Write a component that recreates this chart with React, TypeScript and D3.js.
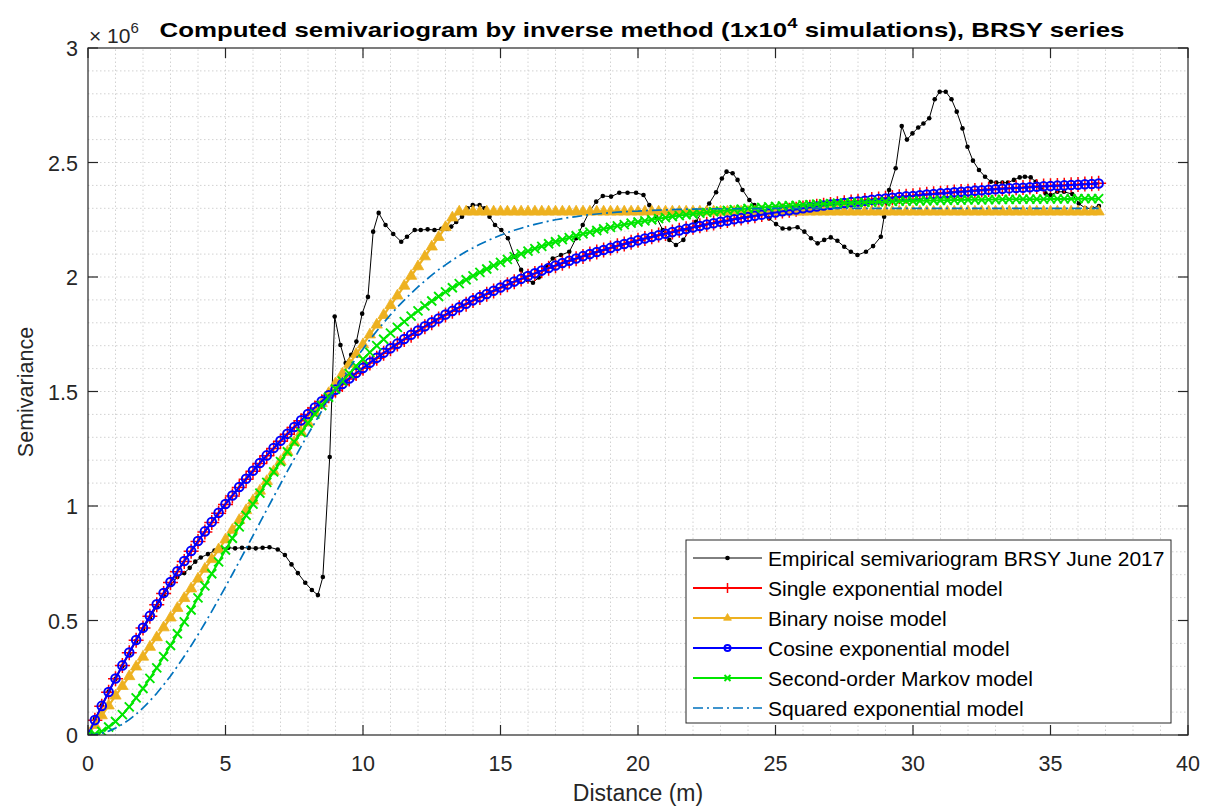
import React from 'react';
import * as d3 from 'd3';

// lag distances (m) shared by the model curves
const lags = [
  0, 0.25, 0.5, 0.75, 1, 1.25, 1.5, 1.75, 2, 2.25,
  2.5, 2.75, 3, 3.25, 3.5, 3.75, 4, 4.25, 4.5, 4.75,
  5, 5.25, 5.5, 5.75, 6, 6.25, 6.5, 6.75, 7, 7.25,
  7.5, 7.75, 8, 8.25, 8.5, 8.75, 9, 9.25, 9.5, 9.75,
  10, 10.25, 10.5, 10.75, 11, 11.25, 11.5, 11.75, 12, 12.25,
  12.5, 12.75, 13, 13.25, 13.5, 13.75, 14, 14.25, 14.5, 14.75,
  15, 15.25, 15.5, 15.75, 16, 16.25, 16.5, 16.75, 17, 17.25,
  17.5, 17.75, 18, 18.25, 18.5, 18.75, 19, 19.25, 19.5, 19.75,
  20, 20.25, 20.5, 20.75, 21, 21.25, 21.5, 21.75, 22, 22.25,
  22.5, 22.75, 23, 23.25, 23.5, 23.75, 24, 24.25, 24.5, 24.75,
  25, 25.25, 25.5, 25.75, 26, 26.25, 26.5, 26.75, 27, 27.25,
  27.5, 27.75, 28, 28.25, 28.5, 28.75, 29, 29.25, 29.5, 29.75,
  30, 30.25, 30.5, 30.75, 31, 31.25, 31.5, 31.75, 32, 32.25,
  32.5, 32.75, 33, 33.25, 33.5, 33.75, 34, 34.25, 34.5, 34.75,
  35, 35.25, 35.5, 35.75, 36, 36.25, 36.5, 36.75,
];

// semivariance values in units of 1e6
const singleExp = [
  0, 0.064, 0.126, 0.187, 0.246, 0.303, 0.359, 0.414, 0.467, 0.519,
  0.569, 0.618, 0.666, 0.713, 0.758, 0.802, 0.845, 0.887, 0.928, 0.968,
  1.007, 1.044, 1.081, 1.117, 1.152, 1.186, 1.219, 1.251, 1.283, 1.313,
  1.343, 1.372, 1.400, 1.428, 1.455, 1.481, 1.506, 1.531, 1.555, 1.579,
  1.601, 1.624, 1.645, 1.667, 1.687, 1.707, 1.727, 1.746, 1.764, 1.783,
  1.800, 1.817, 1.834, 1.850, 1.866, 1.881, 1.897, 1.911, 1.925, 1.939,
  1.953, 1.966, 1.979, 1.991, 2.003, 2.015, 2.027, 2.038, 2.049, 2.060,
  2.070, 2.080, 2.090, 2.100, 2.109, 2.118, 2.127, 2.136, 2.144, 2.152,
  2.160, 2.168, 2.176, 2.183, 2.190, 2.197, 2.204, 2.211, 2.217, 2.224,
  2.230, 2.236, 2.242, 2.247, 2.253, 2.258, 2.263, 2.268, 2.273, 2.278,
  2.283, 2.288, 2.292, 2.296, 2.301, 2.305, 2.309, 2.313, 2.317, 2.320,
  2.324, 2.328, 2.331, 2.334, 2.338, 2.341, 2.344, 2.347, 2.350, 2.353,
  2.355, 2.358, 2.361, 2.363, 2.366, 2.368, 2.371, 2.373, 2.375, 2.378,
  2.380, 2.382, 2.384, 2.386, 2.388, 2.390, 2.391, 2.393, 2.395, 2.397,
  2.398, 2.400, 2.401, 2.403, 2.404, 2.406, 2.407, 2.409,
];

const binaryNoise = [
  0, 0.043, 0.085, 0.128, 0.171, 0.213, 0.256, 0.298, 0.341, 0.384,
  0.426, 0.469, 0.512, 0.554, 0.597, 0.639, 0.682, 0.725, 0.767, 0.810,
  0.853, 0.895, 0.938, 0.981, 1.023, 1.066, 1.108, 1.151, 1.194, 1.236,
  1.279, 1.322, 1.364, 1.407, 1.449, 1.492, 1.535, 1.577, 1.620, 1.663,
  1.705, 1.748, 1.791, 1.833, 1.876, 1.918, 1.961, 2.004, 2.046, 2.089,
  2.132, 2.174, 2.217, 2.259, 2.285, 2.285, 2.285, 2.285, 2.285, 2.285,
  2.285, 2.285, 2.285, 2.285, 2.285, 2.285, 2.285, 2.285, 2.285, 2.285,
  2.285, 2.285, 2.285, 2.285, 2.285, 2.285, 2.285, 2.285, 2.285, 2.285,
  2.285, 2.285, 2.285, 2.285, 2.285, 2.285, 2.285, 2.285, 2.285, 2.285,
  2.285, 2.285, 2.285, 2.285, 2.285, 2.285, 2.285, 2.285, 2.285, 2.285,
  2.285, 2.285, 2.285, 2.285, 2.285, 2.285, 2.285, 2.285, 2.285, 2.285,
  2.285, 2.285, 2.285, 2.285, 2.285, 2.285, 2.285, 2.285, 2.285, 2.285,
  2.285, 2.285, 2.285, 2.285, 2.285, 2.285, 2.285, 2.285, 2.285, 2.285,
  2.285, 2.285, 2.285, 2.285, 2.285, 2.285, 2.285, 2.285, 2.285, 2.285,
  2.285, 2.285, 2.285, 2.285, 2.285, 2.285, 2.285, 2.285,
];

const cosineExp = [
  0, 0.065, 0.127, 0.188, 0.247, 0.304, 0.360, 0.415, 0.468, 0.520,
  0.571, 0.620, 0.668, 0.715, 0.760, 0.804, 0.847, 0.889, 0.930, 0.970,
  1.009, 1.046, 1.083, 1.119, 1.154, 1.188, 1.221, 1.253, 1.285, 1.315,
  1.345, 1.374, 1.402, 1.430, 1.457, 1.483, 1.508, 1.533, 1.557, 1.581,
  1.603, 1.626, 1.647, 1.669, 1.689, 1.709, 1.729, 1.748, 1.766, 1.785,
  1.802, 1.819, 1.836, 1.852, 1.868, 1.883, 1.898, 1.912, 1.926, 1.940,
  1.954, 1.967, 1.980, 1.992, 2.004, 2.016, 2.028, 2.039, 2.050, 2.061,
  2.071, 2.081, 2.091, 2.100, 2.109, 2.118, 2.127, 2.136, 2.144, 2.152,
  2.160, 2.168, 2.175, 2.182, 2.189, 2.196, 2.203, 2.210, 2.216, 2.223,
  2.229, 2.235, 2.241, 2.246, 2.252, 2.257, 2.262, 2.267, 2.272, 2.277,
  2.282, 2.287, 2.291, 2.295, 2.300, 2.304, 2.308, 2.312, 2.316, 2.319,
  2.323, 2.327, 2.330, 2.333, 2.337, 2.340, 2.343, 2.346, 2.349, 2.352,
  2.354, 2.357, 2.360, 2.362, 2.365, 2.367, 2.370, 2.372, 2.374, 2.377,
  2.379, 2.381, 2.383, 2.385, 2.387, 2.389, 2.390, 2.392, 2.394, 2.396,
  2.397, 2.399, 2.400, 2.402, 2.403, 2.405, 2.406, 2.408,
];

const markov2 = [
  0, 0.004, 0.016, 0.035, 0.059, 0.089, 0.123, 0.162, 0.203, 0.247,
  0.293, 0.342, 0.391, 0.442, 0.494, 0.546, 0.599, 0.651, 0.704, 0.756,
  0.808, 0.859, 0.909, 0.959, 1.008, 1.056, 1.103, 1.149, 1.194, 1.237,
  1.280, 1.321, 1.362, 1.401, 1.439, 1.475, 1.511, 1.545, 1.578, 1.611,
  1.641, 1.671, 1.700, 1.728, 1.755, 1.780, 1.805, 1.829, 1.852, 1.874,
  1.895, 1.915, 1.935, 1.953, 1.971, 1.988, 2.005, 2.020, 2.035, 2.050,
  2.064, 2.077, 2.089, 2.101, 2.113, 2.124, 2.134, 2.145, 2.154, 2.163,
  2.172, 2.180, 2.188, 2.196, 2.203, 2.210, 2.217, 2.223, 2.229, 2.235,
  2.240, 2.245, 2.250, 2.255, 2.259, 2.264, 2.268, 2.272, 2.275, 2.279,
  2.282, 2.285, 2.288, 2.291, 2.294, 2.296, 2.299, 2.301, 2.304, 2.306,
  2.308, 2.310, 2.311, 2.313, 2.315, 2.316, 2.318, 2.319, 2.320, 2.322,
  2.323, 2.324, 2.325, 2.326, 2.327, 2.328, 2.329, 2.330, 2.331, 2.331,
  2.332, 2.333, 2.333, 2.334, 2.335, 2.335, 2.336, 2.336, 2.337, 2.337,
  2.337, 2.338, 2.338, 2.339, 2.339, 2.339, 2.340, 2.340, 2.340, 2.340,
  2.341, 2.341, 2.341, 2.341, 2.342, 2.342, 2.342, 2.342,
];

const squaredExp = [
  0, 0.002, 0.008, 0.017, 0.030, 0.047, 0.067, 0.091, 0.118, 0.149,
  0.182, 0.219, 0.258, 0.300, 0.344, 0.390, 0.438, 0.488, 0.540, 0.593,
  0.647, 0.702, 0.758, 0.814, 0.871, 0.927, 0.984, 1.040, 1.096, 1.152,
  1.206, 1.260, 1.313, 1.364, 1.415, 1.464, 1.511, 1.557, 1.602, 1.645,
  1.686, 1.726, 1.764, 1.800, 1.835, 1.868, 1.899, 1.929, 1.957, 1.983,
  2.008, 2.032, 2.053, 2.074, 2.093, 2.111, 2.127, 2.143, 2.157, 2.170,
  2.182, 2.194, 2.204, 2.213, 2.222, 2.230, 2.237, 2.244, 2.250, 2.255,
  2.260, 2.264, 2.268, 2.272, 2.275, 2.278, 2.281, 2.283, 2.285, 2.287,
  2.288, 2.290, 2.291, 2.292, 2.293, 2.294, 2.295, 2.296, 2.296, 2.297,
  2.297, 2.298, 2.298, 2.298, 2.298, 2.299, 2.299, 2.299, 2.299, 2.299,
  2.300, 2.300, 2.300, 2.300, 2.300, 2.300, 2.300, 2.300, 2.300, 2.300,
  2.300, 2.300, 2.300, 2.300, 2.300, 2.300, 2.300, 2.300, 2.300, 2.300,
  2.300, 2.300, 2.300, 2.300, 2.300, 2.300, 2.300, 2.300, 2.300, 2.300,
  2.300, 2.300, 2.300, 2.300, 2.300, 2.300, 2.300, 2.300, 2.300, 2.300,
  2.300, 2.300, 2.300, 2.300, 2.300, 2.300, 2.300, 2.300,
];

// empirical semivariogram (BRSY June 2017)
const empDist = [
  0, 0.25, 0.5, 0.75, 1.0, 1.25, 1.5, 1.75, 2.0, 2.25,
  2.5, 2.75, 3.0, 3.25, 3.5, 3.7, 3.9, 4.1, 4.36, 4.6,
  4.85, 5.1, 5.35, 5.6, 5.85, 6.1, 6.35, 6.6, 6.9, 7.16,
  7.4, 7.63, 7.9, 8.14, 8.36, 8.54, 8.79, 8.97, 9.18, 9.37,
  9.57, 9.76, 9.97, 10.18, 10.37, 10.57, 10.82, 11.1, 11.39, 11.6,
  11.88, 12.1, 12.35, 12.6, 12.85, 13.05, 13.21, 13.39, 13.6, 13.8,
  13.99, 14.24, 14.42, 14.6, 14.8, 15.03, 15.27, 15.51, 15.75, 15.99,
  16.18, 16.39, 16.66, 16.9, 17.2, 17.5, 17.75, 17.99, 18.23, 18.48,
  18.72, 19.02, 19.32, 19.62, 19.93, 20.2, 20.41, 20.66, 20.9, 21.14,
  21.38, 21.65, 21.87, 22.11, 22.33, 22.59, 22.84, 23.05, 23.22, 23.44,
  23.62, 23.8, 24.05, 24.23, 24.53, 24.77, 25.02, 25.26, 25.5, 25.8,
  26.05, 26.29, 26.53, 26.77, 27.01, 27.25, 27.5, 27.74, 27.98, 28.29,
  28.55, 28.83, 28.95, 29.13, 29.37, 29.59, 29.78, 29.98, 30.19, 30.38,
  30.59, 30.79, 30.97, 31.19, 31.4, 31.59, 31.8, 31.98, 32.18, 32.4,
  32.62, 32.83, 33.03, 33.25, 33.45, 33.67, 33.88, 34.07, 34.28, 34.46,
  34.64, 34.82, 35.0, 35.25, 35.49, 35.79, 36.03, 36.27, 36.52, 36.76,
];
const empVal = [
  0, 0.07, 0.13, 0.19, 0.245, 0.30, 0.355, 0.41, 0.46, 0.51,
  0.56, 0.61, 0.655, 0.69, 0.707, 0.73, 0.757, 0.775, 0.79, 0.805,
  0.815, 0.818, 0.815, 0.818, 0.817, 0.815, 0.818, 0.82, 0.81, 0.786,
  0.745, 0.707, 0.665, 0.633, 0.611, 0.69, 1.214, 1.827, 1.703, 1.624,
  1.66, 1.718, 1.84, 1.913, 2.198, 2.28, 2.227, 2.188, 2.154, 2.176,
  2.205, 2.205, 2.208, 2.205, 2.21, 2.21, 2.22, 2.24, 2.263, 2.30,
  2.314, 2.314, 2.30, 2.263, 2.227, 2.205, 2.169, 2.089, 2.031, 1.987,
  1.975, 1.998, 2.045, 2.081, 2.096, 2.11, 2.169, 2.227, 2.285, 2.329,
  2.354, 2.351, 2.368, 2.368, 2.368, 2.358, 2.314, 2.263, 2.205, 2.162,
  2.14, 2.162, 2.205, 2.241, 2.285, 2.321, 2.37, 2.43, 2.46, 2.453,
  2.424, 2.38, 2.336, 2.314, 2.285, 2.256, 2.231, 2.212, 2.212, 2.217,
  2.198, 2.169, 2.147, 2.162, 2.173, 2.158, 2.132, 2.11, 2.096, 2.11,
  2.135, 2.176, 2.263, 2.38, 2.475, 2.659, 2.60, 2.627, 2.653, 2.67,
  2.693, 2.776, 2.809, 2.809, 2.776, 2.722, 2.649, 2.569, 2.508, 2.467,
  2.438, 2.416, 2.412, 2.412, 2.412, 2.424, 2.435, 2.438, 2.435, 2.416,
  2.387, 2.365, 2.358, 2.372, 2.372, 2.362, 2.321, 2.30, 2.30, 2.31,
];

const xTicks = [0, 5, 10, 15, 20, 25, 30, 35, 40];
const yTicks = [0, 0.5, 1, 1.5, 2, 2.5, 3];
const yTickLabels = ['0', '0.5', '1', '1.5', '2', '2.5', '3'];

const legendLabels = [
  'Empirical semivariogram BRSY June 2017',
  'Single exponential model',
  'Binary noise model',
  'Cosine exponential model',
  'Second-order Markov model',
  'Squared exponential model',
];

const FONT = "'Liberation Sans', Arial, Helvetica, sans-serif";
const ORANGE = '#EDB120';
const GREEN = '#00e600';
const DASHBLUE = '#0072BD';

type Pt = [number, number];

const Marker = ({ kind, color, small }: { kind: string; color: string; small?: boolean }) => {
  if (kind === 'dot') return <circle r={2.3} fill={color} />;
  if (kind === 'plus') {
    const s = small ? 5 : 7.5;
    return <path d={`M${-s},0H${s}M0,${-s}V${s}`} stroke={color} strokeWidth={1.5} fill="none" />;
  }
  if (kind === 'tri')
    return <path d={d3.symbol(d3.symbolTriangle, small ? 26 : 55)() || ''} fill={color} stroke={color} strokeWidth={0.8} />;
  if (kind === 'circle') return <circle r={small ? 3 : 4.3} fill="none" stroke={color} strokeWidth={2} />;
  if (kind === 'cross') {
    const s = small ? 3 : 4.5;
    return <path d={`M${-s},${-s}L${s},${s}M${-s},${s}L${s},${-s}`} stroke={color} strokeWidth={1.9} fill="none" />;
  }
  return null;
};

export default function App() {
  const x = d3.scaleLinear().domain([0, 40]).range([88, 1188]);
  const y = d3.scaleLinear().domain([0, 3]).range([735, 48]);
  const line = d3.line<Pt>().x(d => x(d[0])).y(d => y(d[1]));

  const n = lags.length;
  const pts = (vals: number[]): Pt[] => vals.slice(0, n).map((v, i) => [lags[i], v] as Pt);
  const emp: Pt[] = empDist.map((d, i) => [d, empVal[i]] as Pt);

  const series = [
    { data: emp, color: '#000', width: 1, marker: 'dot', dash: undefined as string | undefined },
    { data: pts(singleExp), color: '#ff0000', width: 2, marker: 'plus', dash: undefined },
    { data: pts(binaryNoise), color: ORANGE, width: 2.2, marker: 'tri', dash: undefined },
    { data: pts(cosineExp), color: '#0000ff', width: 2, marker: 'circle', dash: undefined },
    { data: pts(markov2), color: GREEN, width: 2, marker: 'cross', dash: undefined },
    { data: pts(squaredExp), color: DASHBLUE, width: 1.7, marker: '', dash: '10,4,2,4' },
  ];

  const xGrid = d3.range(1, 40);
  const yGrid = d3.range(1, 30).map(v => v / 10);

  const legX = 686, legY = 540, legW = 485, legH = 183;

  return (
    <svg width={1212} height={811} style={{ position: 'absolute', left: 0, top: 0, background: '#fff' }} fontFamily={FONT}>
      <rect width={1212} height={811} fill="#fff" />

      {/* grid */}
      <g stroke="#d2d2d2" strokeWidth={1} strokeDasharray="1.5,2.5">
        {xGrid.map(v => <line key={'gx' + v} x1={x(v)} x2={x(v)} y1={y(0)} y2={y(3)} />)}
        {yGrid.map(v => <line key={'gy' + v} x1={x(0)} x2={x(40)} y1={y(v)} y2={y(v)} />)}
      </g>

      {/* series */}
      <defs>
        <clipPath id="plot-clip"><rect x={88} y={48} width={1100} height={687} /></clipPath>
      </defs>
      <g clipPath="url(#plot-clip)">
        {series.map((s, i) => (
          <g key={'s' + i}>
            <path d={line(s.data) || ''} fill="none" stroke={s.color} strokeWidth={s.width}
              strokeDasharray={s.dash} strokeLinejoin="round" />
            {s.marker && s.data.map((p, j) => (
              <g key={j} transform={`translate(${x(p[0])},${y(p[1])})`}>
                <Marker kind={s.marker} color={s.color} />
              </g>
            ))}
          </g>
        ))}
      </g>

      {/* axes box and ticks */}
      <rect x={88} y={48} width={1100} height={687} fill="none" stroke="#262626" strokeWidth={1.2} />
      <g stroke="#262626" strokeWidth={1.2}>
        {xTicks.map(v => (
          <g key={'xt' + v}>
            <line x1={x(v)} x2={x(v)} y1={735} y2={725} />
            <line x1={x(v)} x2={x(v)} y1={48} y2={58} />
          </g>
        ))}
        {yTicks.map(v => (
          <g key={'yt' + v}>
            <line x1={88} x2={98} y1={y(v)} y2={y(v)} />
            <line x1={1188} x2={1178} y1={y(v)} y2={y(v)} />
          </g>
        ))}
      </g>
      <g fontSize={21.5} fill="#262626">
        {xTicks.map(v => (
          <text key={'xl' + v} x={x(v)} y={771} textAnchor="middle">{v}</text>
        ))}
        {yTicks.map((v, i) => (
          <text key={'yl' + v} x={78} y={y(v) + 8} textAnchor="end">{yTickLabels[i]}</text>
        ))}
      </g>

      {/* exponent */}
      <text x={89} y={43} fontSize={21} fill="#262626">
        × 10<tspan dy={-10} fontSize={15}>6</tspan>
      </text>

      {/* labels */}
      <text x={638} y={801} textAnchor="middle" fontSize={23} fill="#262626">Distance (m)</text>
      <text transform="translate(33,392) rotate(-90)" textAnchor="middle" fontSize={21.5} fill="#262626">Semivariance</text>

      <text x={642} y={37} textAnchor="middle" fontSize={21} fontWeight="bold" fill="#000"
        textLength={965} lengthAdjust="spacingAndGlyphs">
        Computed semivariogram by inverse method (1x10<tspan dy={-9} fontSize={15}>4</tspan>
        <tspan dy={9}> simulations), BRSY series</tspan>
      </text>

      {/* legend */}
      <rect x={legX} y={legY} width={legW} height={legH} fill="#fff" stroke="#262626" strokeWidth={1} />
      {series.map((s, i) => {
        const cy = legY + 18 + i * 30;
        return (
          <g key={'lg' + i}>
            <line x1={693} x2={762} y1={cy} y2={cy} stroke={s.color} strokeWidth={s.width}
              strokeDasharray={s.dash} />
            {s.marker && (
              <g transform={`translate(727.5,${cy})`}>
                <Marker kind={s.marker} color={s.color} small />
              </g>
            )}
            <text x={768} y={cy + 7.5} fontSize={21} fill="#000">{legendLabels[i]}</text>
          </g>
        );
      })}
    </svg>
  );
}
